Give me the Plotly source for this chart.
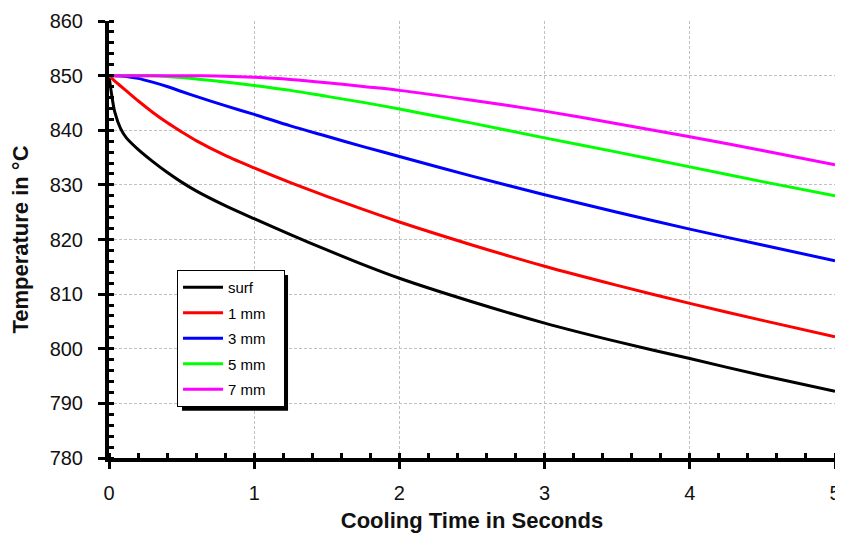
import plotly.graph_objects as go

time_s = [0, 0.02, 0.04, 0.08, 0.12, 0.2, 0.3, 0.4, 0.5, 0.6, 0.8, 1.0, 1.25, 1.5, 1.75, 2.0, 2.5, 3.0, 3.5, 4.0, 4.5, 5.0]
surf = [850, 846.2, 843.3, 840.3, 838.6, 836.5, 834.3, 832.3, 830.5, 828.9, 826.2, 823.8, 820.9, 818.1, 815.4, 812.9, 808.6, 804.7, 801.3, 798.2, 795.1, 792.2]
mm1 = [850, 849.5, 849.0, 848.1, 847.2, 845.4, 843.3, 841.4, 839.7, 838.1, 835.4, 833.1, 830.4, 827.9, 825.5, 823.2, 819.0, 815.1, 811.6, 808.3, 805.2, 802.2]
mm3 = [850, 850, 850, 849.95, 849.85, 849.5, 848.8, 848.0, 847.1, 846.2, 844.5, 842.9, 840.8, 838.9, 837.0, 835.2, 831.6, 828.2, 825.0, 821.9, 819.0, 816.1]
mm5 = [850, 850, 850, 850, 850, 850, 849.97, 849.85, 849.65, 849.4, 848.85, 848.2, 847.3, 846.2, 845.1, 843.9, 841.3, 838.6, 836.0, 833.3, 830.6, 828.0]
mm7 = [850, 850, 850, 850, 850, 850, 850, 850, 849.99, 849.97, 849.9, 849.7, 849.3, 848.7, 848.0, 847.3, 845.5, 843.5, 841.2, 838.8, 836.3, 833.7]

series_names = ["surf", "1 mm", "3 mm", "5 mm", "7 mm"]
series_values = [surf, mm1, mm3, mm5, mm7]
series_colors = ["#000000", "#ff0000", "#0000ff", "#00ff00", "#ff00ff"]

x_ticks = [0, 1, 2, 3, 4, 5]
y_ticks = [780, 790, 800, 810, 820, 830, 840, 850, 860]

FONT = "Liberation Sans, Arial, sans-serif"
PAD = "\u00a0" * 3

fig = go.Figure()
for name, vals, col in zip(series_names, series_values, series_colors):
    fig.add_trace(go.Scatter(
        x=time_s, y=vals, mode="lines", name=name + PAD,
        line=dict(color=col, width=3, shape="spline", smoothing=0.8),
        legendgroup=name,
    ))

axis_common = dict(
    showline=True, linecolor="#000", linewidth=4,
    showgrid=True, gridcolor="#c0c0c0", gridwidth=1, griddash="3px,2px",
    zeroline=False, automargin=False,
    ticks="outside", ticklen=7, tickwidth=3, tickcolor="#000",
    tickfont=dict(family=FONT, size=20, color="#111"),
    ticklabeloverflow="allow",
)

fig.update_layout(
    width=835, height=527,
    margin=dict(l=101, r=8, t=13, b=77),
    paper_bgcolor="white", plot_bgcolor="white",
    showlegend=True,
    legend=dict(
        x=0.0937, y=0.430, xanchor="left", yanchor="top",
        bgcolor="white", bordercolor="#000", borderwidth=1,
        font=dict(family=FONT, size=15, color="#000"),
        tracegroupgap=3, traceorder="grouped", itemwidth=40,
    ),
    xaxis=dict(
        range=[0, 5], tickvals=x_ticks, ticktext=[str(v) for v in x_ticks],
        minor=dict(dtick=0.2, ticks="inside", ticklen=5, tickwidth=3, tickcolor="#000", showgrid=False),
        title=dict(text="<b>Cooling Time in Seconds</b>", font=dict(family=FONT, size=22, color="#111"), standoff=11),
        ticklabelstandoff=7,
        **axis_common,
    ),
    yaxis=dict(
        range=[780, 860], tickvals=y_ticks, ticktext=[str(v) for v in y_ticks],
        minor=dict(dtick=2, ticks="inside", ticklen=5, tickwidth=3, tickcolor="#000", showgrid=False),
        title=dict(text="<b>Temperature in °C</b>", font=dict(family=FONT, size=22, color="#111"), standoff=21),
        ticklabelstandoff=11,
        **axis_common,
    ),
    xaxis2=dict(
        overlaying="x", anchor="y", range=[0, 5], tickvals=x_ticks, showticklabels=False,
        ticks="inside", ticklen=5, tickwidth=3, tickcolor="#000", showgrid=False, zeroline=False,
        showline=False, side="bottom", automargin=False,
    ),
    yaxis2=dict(
        overlaying="y", anchor="x", range=[780, 860], tickvals=y_ticks, showticklabels=False,
        ticks="inside", ticklen=5, tickwidth=3, tickcolor="#000", showgrid=False, zeroline=False,
        showline=False, side="left", automargin=False,
    ),
)

# legend drop shadow
fig.add_shape(
    type="rect", xref="paper", yref="paper",
    x0=0.1006, x1=0.2466, y0=0.108, y1=0.419,
    fillcolor="#000", line=dict(width=0), layer="above",
)

fig.write_html("out.html")
